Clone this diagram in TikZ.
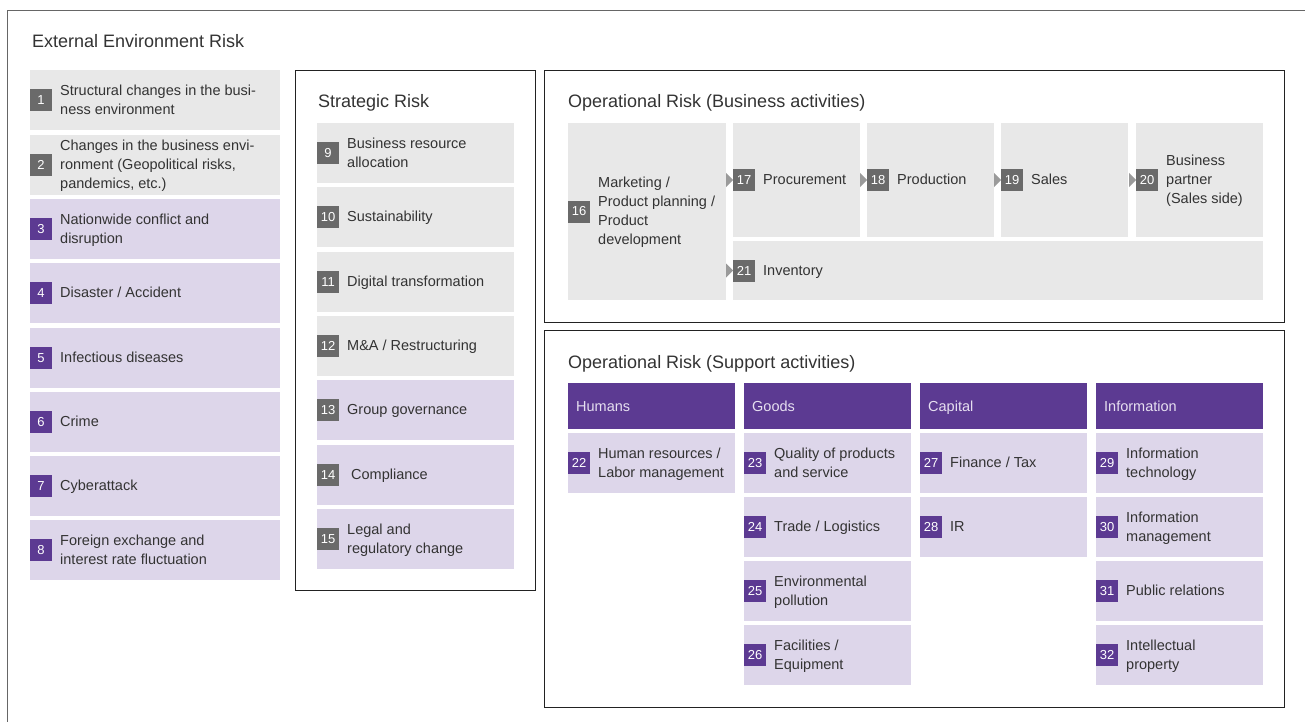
\documentclass[tikz,border=0pt]{standalone}
\usepackage{fontspec}
\setmainfont{Liberation Sans}
\definecolor{cellgray}{HTML}{E8E8E8}
\definecolor{lav}{HTML}{DDD6EA}
\definecolor{purp}{HTML}{5C3A92}
\definecolor{badgegray}{HTML}{6A6A6A}
\definecolor{arrowgray}{HTML}{9A9A9A}
\definecolor{txt}{HTML}{333333}
\definecolor{framec}{HTML}{222222}
\definecolor{headtxt}{HTML}{E6DFF0}
\tikzset{
  badge/.style={fill=#1, text=white, minimum width=22pt, minimum height=22pt, inner sep=0pt, outer sep=0pt, anchor=west, font=\fontsize{13}{13}\selectfont},
  celltext/.style={anchor=west, align=left, inner sep=0pt, text=txt, font=\fontsize{14.5}{19}\selectfont},
  frame/.style={draw=framec, line width=1pt},
  outerframe/.style={draw=black!60, line width=1pt},
  titletext/.style={anchor=base west, inner sep=0pt, text=txt, font=\fontsize{18}{20}\selectfont},
  headtext/.style={anchor=west, inner sep=0pt, text height=10.5pt, text depth=0pt, text=headtxt, font=\fontsize{14.5}{19}\selectfont},
  flowarrow/.style={fill=arrowgray},
}
% name, x1, y1, x2, y2, fill, badge colour, number, text
\newcommand\rcell[9]{%
  \fill[#6] (#2,#3) rectangle (#4,#5);
  \node[badge=#7] (#1b) at (#2,{(#3+#5)/2}) {#8};
  \node[celltext] (#1) at ({#2+30},{(#3+#5)/2+1}) {\strut #9\strut};
}
\newcommand\flowtip[1]{%
  \fill[flowarrow] ([xshift=-7pt,yshift=7pt]#1.west) -- (#1.west) -- ([xshift=-7pt,yshift=-7pt]#1.west) -- cycle;
}
\begin{document}
\begin{tikzpicture}[x=1pt,y=-1pt]
\useasboundingbox (0,0) rectangle (1305,722);
\fill[white] (0,0) rectangle (1305,722);
% outer frame
\draw[outerframe] (7.5,722) -- (7.5,10.5) -- (1305,10.5);
\node[titletext] (exttitle) at (32,48) {External Environment Risk};
% External column
\rcell{e1}{30}{70}{280}{130}{cellgray}{badgegray}{1}{Structural changes in the busi-\\ness environment}
\rcell{e2}{30}{135}{280}{195}{cellgray}{badgegray}{2}{Changes in the business envi-\\ronment (Geopolitical risks,\\pandemics, etc.)}
\rcell{e3}{30}{199}{280}{259}{lav}{purp}{3}{Nationwide conflict and\\disruption}
\rcell{e4}{30}{263}{280}{323}{lav}{purp}{4}{Disaster / Accident}
\rcell{e5}{30}{328}{280}{388}{lav}{purp}{5}{Infectious diseases}
\rcell{e6}{30}{392}{280}{452}{lav}{purp}{6}{Crime}
\rcell{e7}{30}{456}{280}{516}{lav}{purp}{7}{Cyberattack}
\rcell{e8}{30}{520}{280}{580}{lav}{purp}{8}{Foreign exchange and\\interest rate fluctuation}
% Strategic
\draw[frame] (295.5,70.5) rectangle (535.5,590.5);
\node[titletext] (strtitle) at (318,108) {Strategic Risk};
\rcell{s9}{317}{123}{514}{183}{cellgray}{badgegray}{9}{Business resource\\allocation}
\rcell{s10}{317}{187}{514}{247}{cellgray}{badgegray}{10}{Sustainability}
\rcell{s11}{317}{252}{514}{312}{cellgray}{badgegray}{11}{Digital transformation}
\rcell{s12}{317}{316}{514}{376}{cellgray}{badgegray}{12}{M\&A / Restructuring}
\rcell{s13}{317}{380}{514}{440}{lav}{badgegray}{13}{Group governance}
\rcell{s14}{317}{445}{514}{505}{lav}{badgegray}{14}{\hspace{4pt}Compliance}
\rcell{s15}{317}{509}{514}{569}{lav}{badgegray}{15}{Legal and\\regulatory change}
% Operational business
\draw[frame] (544.5,70.5) rectangle (1284.5,322.5);
\node[titletext] (obtitle) at (568,108) {Operational Risk (Business activities)};
\rcell{b16}{568}{123}{726}{300}{cellgray}{badgegray}{16}{Marketing /\\Product planning /\\Product\\development}
\rcell{b17}{733}{123}{860}{237}{cellgray}{badgegray}{17}{Procurement}
\rcell{b18}{867}{123}{994}{237}{cellgray}{badgegray}{18}{Production}
\rcell{b19}{1001}{123}{1128}{237}{cellgray}{badgegray}{19}{Sales}
\rcell{b20}{1136}{123}{1263}{237}{cellgray}{badgegray}{20}{Business\\partner\\(Sales side)}
\rcell{b21}{733}{241}{1263}{300}{cellgray}{badgegray}{21}{Inventory}
\flowtip{b17b}
\flowtip{b18b}
\flowtip{b19b}
\flowtip{b20b}
\flowtip{b21b}
% Operational support
\draw[frame] (544.5,330.5) rectangle (1284.5,707.5);
\node[titletext] (ostitle) at (568,368) {Operational Risk (Support activities)};
\fill[purp] (568,383) rectangle (735,429);
\node[headtext] (hhum) at (576,406) {Humans};
\fill[purp] (744,383) rectangle (911,429);
\node[headtext] (hgoods) at (752,406) {Goods};
\fill[purp] (920,383) rectangle (1087,429);
\node[headtext] (hcap) at (928,406) {Capital};
\fill[purp] (1096,383) rectangle (1263,429);
\node[headtext] (hinfo) at (1104,406) {Information};
\rcell{p22}{568}{433}{735}{493}{lav}{purp}{22}{Human resources /\\Labor management}
\rcell{p23}{744}{433}{911}{493}{lav}{purp}{23}{Quality of products\\and service}
\rcell{p24}{744}{497}{911}{557}{lav}{purp}{24}{Trade / Logistics}
\rcell{p25}{744}{561}{911}{621}{lav}{purp}{25}{Environmental\\pollution}
\rcell{p26}{744}{625}{911}{685}{lav}{purp}{26}{Facilities /\\Equipment}
\rcell{p27}{920}{433}{1087}{493}{lav}{purp}{27}{Finance / Tax}
\rcell{p28}{920}{497}{1087}{557}{lav}{purp}{28}{IR}
\rcell{p29}{1096}{433}{1263}{493}{lav}{purp}{29}{Information\\technology}
\rcell{p30}{1096}{497}{1263}{557}{lav}{purp}{30}{Information\\management}
\rcell{p31}{1096}{561}{1263}{621}{lav}{purp}{31}{Public relations}
\rcell{p32}{1096}{625}{1263}{685}{lav}{purp}{32}{Intellectual\\property}
\end{tikzpicture}
\end{document}
